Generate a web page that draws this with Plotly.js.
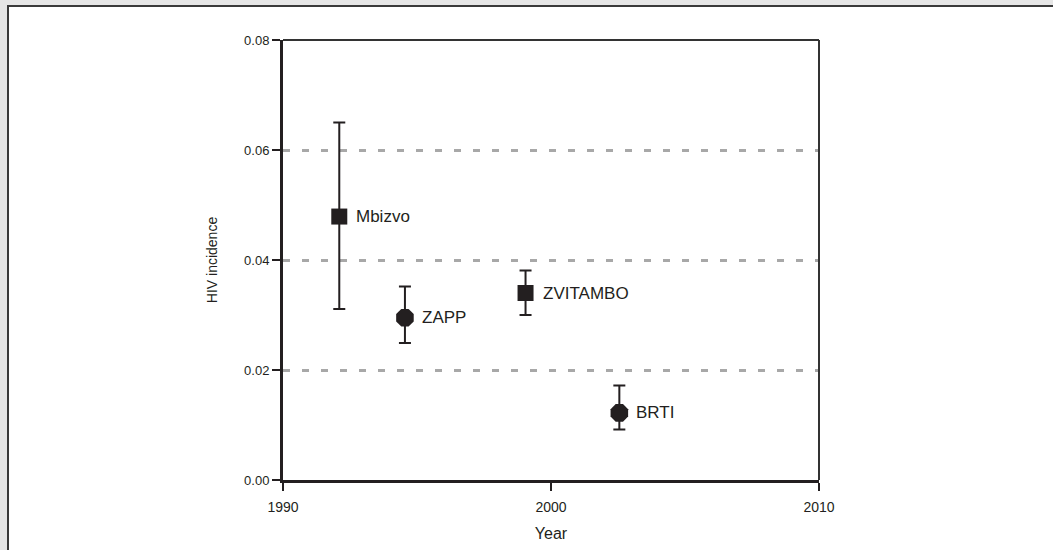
<!DOCTYPE html>
<html>
<head>
<meta charset="utf-8">
<script src="https://cdn.plot.ly/plotly-3.0.1.min.js"></script>
<style>
  html, body { margin: 0; padding: 0; background: #e6e6e6; }
  #frame { position: relative; width: 1053px; height: 550px; overflow: hidden; }
  #panel { position: absolute; left: 7px; top: 5px; right: 0; bottom: 0;
           background: #ffffff; border-left: 2px solid #3a3a3a; border-top: 2px solid #3a3a3a; }
  #chart { position: absolute; left: 0; top: 0; width: 1053px; height: 550px; }
</style>
</head>
<body>
<div id="frame">
  <div id="panel"></div>
  <div id="chart"></div>
</div>
<script>
// HIV incidence estimates by study, with confidence intervals
const studies   = ['Mbizvo', 'ZAPP', 'ZVITAMBO', 'BRTI'];
const years     = [1992.1, 1994.55, 1999.05, 2002.55];
const incidence = [0.0479, 0.0295, 0.0340, 0.0122];
const upper     = [0.0650, 0.0352, 0.0381, 0.0172];
const lower     = [0.0311, 0.0249, 0.0300, 0.0092];
const symbols   = ['square', 'octagon', 'square', 'octagon'];
const sizes     = [16, 19, 16, 19];

const yTicks = [0, 0.02, 0.04, 0.06, 0.08];
const xTicks = [1990, 2000, 2010];

const ink = '#231f20';

const trace = {
  x: years,
  y: incidence,
  type: 'scatter',
  mode: 'markers',
  marker: { symbol: symbols, size: sizes, color: ink, opacity: 1, line: { width: 0 } },
  error_y: {
    type: 'data',
    symmetric: false,
    array: upper.map((u, i) => u - incidence[i]),
    arrayminus: lower.map((l, i) => incidence[i] - l),
    color: ink,
    thickness: 2,
    width: 6
  },
  hoverinfo: 'x+y',
  showlegend: false
};

const labels = studies.map((s, i) => ({
  x: years[i], y: incidence[i], xref: 'x', yref: 'y',
  text: s, showarrow: false, xanchor: 'left', yanchor: 'middle', xshift: 15,
  font: { family: 'Liberation Sans, Arial, sans-serif', size: 17, color: ink }
}));

const layout = {
  width: 1053,
  height: 550,
  margin: { l: 283, r: 234, t: 40, b: 70, pad: 0 },
  paper_bgcolor: 'rgba(0,0,0,0)',
  plot_bgcolor: 'rgba(0,0,0,0)',
  font: { family: 'Liberation Sans, Arial, sans-serif', color: ink },
  xaxis: {
    range: [1990, 2010],
    tickvals: xTicks,
    ticktext: xTicks.map(String),
    ticks: 'outside', ticklen: 8, tickwidth: 2, tickcolor: ink,
    ticklabelstandoff: 4,
    showline: true, linewidth: 3, linecolor: ink, mirror: false,
    showgrid: false, zeroline: false,
    tickfont: { size: 14, color: ink },
    title: { text: 'Year', font: { size: 16, color: ink }, standoff: 15 }
  },
  yaxis: {
    range: [0, 0.08],
    tickvals: yTicks,
    ticktext: yTicks.map(v => v.toFixed(2)),
    ticks: 'outside', ticklen: 8, tickwidth: 2, tickcolor: ink,
    showline: true, linewidth: 3, linecolor: ink, mirror: false,
    showgrid: true, gridcolor: '#a8a8a8', gridwidth: 3, griddash: '7px,12px',
    zeroline: false,
    tickfont: { size: 13, color: ink },
    title: { text: 'HIV incidence', font: { size: 14, color: ink }, standoff: 24 }
  },
  shapes: [
    { type: 'line', xref: 'paper', yref: 'paper', x0: 0, x1: 1, y0: 1, y1: 1,
      line: { color: '#333333', width: 2 } },
    { type: 'line', xref: 'paper', yref: 'paper', x0: 1, x1: 1, y0: 0, y1: 1,
      line: { color: '#333333', width: 2 } }
  ],
  annotations: labels
};

Plotly.newPlot('chart', [trace], layout, { displayModeBar: false, staticPlot: true });
</script>
</body>
</html>
